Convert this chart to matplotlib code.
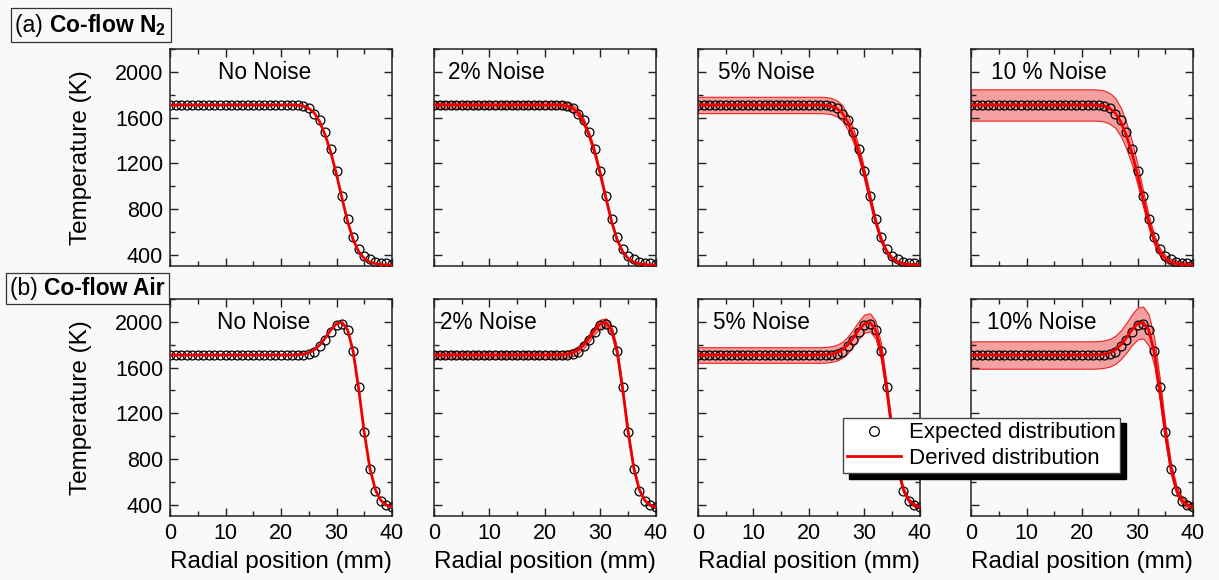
import matplotlib.pyplot as plt
from matplotlib.ticker import MultipleLocator
from matplotlib.offsetbox import TextArea, HPacker, AnchoredOffsetbox
from matplotlib.lines import Line2D

plt.rcParams['font.family'] = ['Liberation Sans', 'DejaVu Sans']
plt.rcParams['mathtext.default'] = 'regular'

# radial positions of the sampled points (mm)
radial_mm = list(range(0, 41))

# (a) co-flow N2: expected profile (circles) and derived profile (red line), K
n2_expected = [1710] * 24 + [1705, 1680, 1635, 1576, 1470, 1325, 1135, 912, 712,
                             556, 445, 387, 357, 338, 328, 323, 320]
n2_derived = [1710] * 23 + [1708, 1700, 1680, 1640, 1560, 1440, 1290, 1100, 890,
                            690, 530, 425, 365, 335, 320, 313, 310, 308]

# (b) co-flow air
air_expected = [1710] * 25 + [1720, 1740, 1790, 1840, 1910, 1970, 1985, 1925,
                              1745, 1430, 1040, 715, 520, 430, 395, 375]
air_derived = [1710] * 23 + [1712, 1718, 1730, 1755, 1800, 1862, 1932, 1985,
                             1995, 1930, 1740, 1410, 1030, 720, 530, 435, 395, 380]

# panel titles and half width of the noise band (fraction of temperature)
n2_titles = ['No Noise', '2% Noise', '5% Noise', '10 % Noise']
air_titles = ['No Noise', '2% Noise', '5% Noise', '10% Noise']
n2_band = [0.0, 0.018, 0.042, 0.08]
air_band = [0.0, 0.018, 0.04, 0.07]

bg = '#f9f9f9'
fig = plt.figure(figsize=(12.19, 5.80), dpi=100, facecolor=bg)

lefts = [0.1395, 0.3560, 0.5726, 0.7966]
bottoms = [0.5414, 0.1103]
title_x = [[0.215, 0.065, 0.09, 0.09], [0.21, 0.025, 0.066, 0.07]]

rows = [(n2_expected, n2_derived, n2_titles, n2_band),
        (air_expected, air_derived, air_titles, air_band)]

for r, (expected, derived, titles, band) in enumerate(rows):
    for c in range(4):
        ax = fig.add_axes([lefts[c], bottoms[r], 0.1821, 0.3741], facecolor=bg)
        if band[c] > 0:
            lo = [t * (1 - band[c]) for t in derived]
            hi = [t * (1 + band[c]) for t in derived]
            ax.fill_between(radial_mm, lo, hi, facecolor='#f5a0a0',
                            edgecolor='#ee2222', linewidth=0.8, zorder=1)
        ax.plot(radial_mm, expected, 'o', mfc='none', mec='black', ms=6.4,
                mew=0.9, zorder=2)
        ax.plot(radial_mm, derived, '-', color='#ee0000', lw=2, zorder=3)
        ax.text(title_x[r][c], 0.89, titles[c], transform=ax.transAxes,
                fontsize=16.3, va='center', ha='left')

        ax.set_xlim(0, 40)
        ax.set_ylim(300, 2200)
        ax.xaxis.set_major_locator(MultipleLocator(10))
        ax.xaxis.set_minor_locator(MultipleLocator(5))
        ax.yaxis.set_major_locator(MultipleLocator(400))
        ax.yaxis.set_minor_locator(MultipleLocator(200))
        ax.set_yticks([400, 800, 1200, 1600, 2000])
        ax.tick_params(which='both', direction='in', top=True, right=True,
                       labelsize=15.5, color='#222222', width=1, pad=5)
        ax.tick_params(which='major', length=6)
        ax.tick_params(which='minor', length=3.5)
        for s in ax.spines.values():
            s.set_linewidth(1.1)
            s.set_color('#222222')

        if c > 0:
            ax.set_yticklabels([])
        else:
            ax.set_ylabel('Temperature (K)', fontsize=17.5)
            ax.yaxis.set_label_coords(-0.35, 0.5)
        if r == 0:
            ax.set_xticklabels([])
        else:
            ax.set_xlabel('Radial position (mm)', fontsize=17.5)
            ax.xaxis.set_label_coords(0.5, -0.16)

# boxed row labels
for label, bold, anchor in [('(a) ', 'Co-flow N$_2$', (11 / 1219, 1 - 8 / 580)),
                            ('(b) ', 'Co-flow Air', (6 / 1219, 1 - 273 / 580))]:
    pack = HPacker(children=[TextArea(label, textprops=dict(fontsize=16.5)),
                             TextArea(bold, textprops=dict(fontsize=16.5, fontweight='bold'))],
                   align='baseline', pad=0, sep=0)
    box = AnchoredOffsetbox(loc='upper left', child=pack, pad=0.3, borderpad=0,
                            bbox_to_anchor=anchor, bbox_transform=fig.transFigure,
                            frameon=True)
    box.patch.set_facecolor(bg)
    box.patch.set_edgecolor('#333333')
    box.patch.set_linewidth(0.9)
    box.patch.set_boxstyle('square', pad=0)
    fig.add_artist(box)

handles = [Line2D([], [], ls='none', marker='o', mfc='none', mec='black', ms=7, mew=0.9),
           Line2D([], [], color='#ee0000', lw=2)]
leg = fig.legend(handles, ['Expected distribution', 'Derived distribution'],
                 loc='upper left', bbox_to_anchor=(843 / 1219, 1 - 418 / 580),
                 fontsize=16, frameon=True, fancybox=False, framealpha=1,
                 edgecolor='#444444', borderaxespad=0, handlelength=2.4,
                 labelspacing=0.2, borderpad=0.2, handletextpad=0.35,
                 shadow={'color': 'black', 'alpha': 1, 'ox': 4.5, 'oy': -3.8})
leg.get_frame().set_linewidth(1)

fig.savefig('out.png', dpi=100, facecolor=bg)
